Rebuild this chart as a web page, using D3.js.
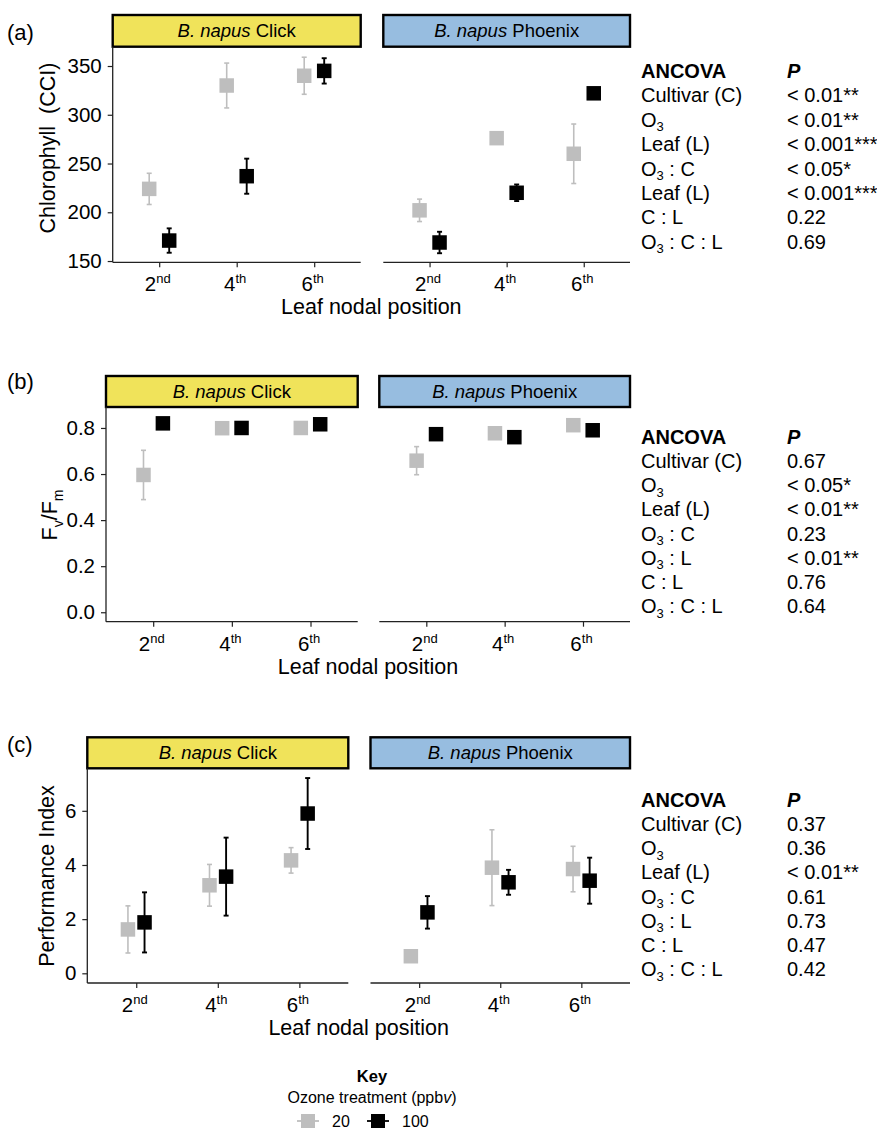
<!DOCTYPE html>
<html>
<head>
<meta charset="utf-8">
<script src="https://cdn.jsdelivr.net/npm/d3@7"></script>
<style>
  body { margin: 0; background: #fff; }
  svg text { font-family: "Liberation Sans", Arial, Helvetica, sans-serif; fill: #000; }
</style>
</head>
<body>
<svg id="chart"></svg>
<script>
const W = 877, H = 1129;

// ---- data ----
const leaves = ['2nd', '4th', '6th'];
const cultivars = ['Click', 'Phoenix'];
const ozone = ['20', '100'];

// (a) chlorophyll (CCI): mean and half error bar
const chlClick20 = [224, 330, 340];
const chlClick20Err = [16, 23, 19];
const chlClick100 = [171, 237, 345];
const chlClick100Err = [12.5, 18, 13];
const chlPhoenix20 = [202, 276, 260];
const chlPhoenix20Err = [11.5, 2, 30.5];
const chlPhoenix100 = [169, 220, 322];
const chlPhoenix100Err = [11, 8.5, 3];

// (b) Fv/Fm
const fvClick20 = [0.596, 0.799, 0.800];
const fvClick20Err = [0.107, 0.01, 0.01];
const fvClick100 = [0.820, 0.800, 0.816];
const fvClick100Err = [0.01, 0.01, 0.01];
const fvPhoenix20 = [0.658, 0.777, 0.812];
const fvPhoenix20Err = [0.061, 0.01, 0.01];
const fvPhoenix100 = [0.773, 0.760, 0.790];
const fvPhoenix100Err = [0.01, 0.01, 0.01];

// (c) performance index
const piClick20 = [1.62, 3.25, 4.17];
const piClick20Err = [0.87, 0.77, 0.47];
const piClick100 = [1.88, 3.57, 5.90];
const piClick100Err = [1.11, 1.44, 1.31];
const piPhoenix20 = [0.63, 3.90, 3.85];
const piPhoenix20Err = [0.05, 1.40, 0.84];
const piPhoenix100 = [2.25, 3.36, 3.42];
const piPhoenix100Err = [0.60, 0.46, 0.85];

const chlTicks = [150, 200, 250, 300, 350];
const fvTicks = [0, 0.2, 0.4, 0.6, 0.8];
const piTicks = [0, 2, 4, 6];

// ANCOVA tables
const ancovaTerms_a = ['Cultivar (C)', 'O3', 'Leaf (L)', 'O3 : C', 'Leaf (L)', 'C : L', 'O3 : C : L'];
const ancovaP_a = ['< 0.01**', '< 0.01**', '< 0.001***', '< 0.05*', '< 0.001***', '0.22', '0.69'];
const ancovaTerms_b = ['Cultivar (C)', 'O3', 'Leaf (L)', 'O3 : C', 'O3 : L', 'C : L', 'O3 : C : L'];
const ancovaP_b = ['0.67', '< 0.05*', '< 0.01**', '0.23', '< 0.01**', '0.76', '0.64'];
const ancovaTerms_c = ['Cultivar (C)', 'O3', 'Leaf (L)', 'O3 : C', 'O3 : L', 'C : L', 'O3 : C : L'];
const ancovaP_c = ['0.37', '0.36', '< 0.01**', '0.61', '0.73', '0.47', '0.42'];

// ---- styles ----
const colGrey = '#bebebe', colBlack = '#000000';
const ozoneColor = d3.scaleOrdinal().domain(ozone).range([colGrey, colBlack]);
const stripFill = { Click: '#f0e35a', Phoenix: '#97bde0' };
const axisCol = '#222';
const sq = 14.5;
const tickFont = 20.5, titleFont = 21.5, tableFont = 20;

const svg = d3.select('#chart').attr('width', W).attr('height', H)
  .attr('viewBox', [0, 0, W, H]);

function makeSeries(c20, e20, c100, e100) {
  return [
    { oz: '20', mean: c20, err: e20 },
    { oz: '100', mean: c100, err: e100 }
  ];
}

const rows = [
  {
    tag: '(a)', tagY: 40, stripTop: 15, plotTop: 46.7, plotBottom: 262.3,
    domain: [148.7, 369.8], ticks: chlTicks, fmt: d3.format('d'),
    facets: [[112.7, 360.7], [383.3, 630]], dodge: 10,
    titleX: 47, titleY: 148, title: 'chl',
    xlabY: 314, tableTop: 71, rowStep: 24.4,
    terms: ancovaTerms_a, pvals: ancovaP_a,
    series: {
      Click: makeSeries(chlClick20, chlClick20Err, chlClick100, chlClick100Err),
      Phoenix: makeSeries(chlPhoenix20, chlPhoenix20Err, chlPhoenix100, chlPhoenix100Err)
    }
  },
  {
    tag: '(b)', tagY: 389, stripTop: 376, plotTop: 407, plotBottom: 621.7,
    domain: [-0.041, 0.891], ticks: fvTicks, fmt: d3.format('.1f'),
    facets: [[106, 357.7], [379.3, 630]], dodge: 9.7,
    titleX: 49, titleY: 515, title: 'fv',
    xlabY: 674, tableTop: 437, rowStep: 24.15,
    terms: ancovaTerms_b, pvals: ancovaP_b,
    series: {
      Click: makeSeries(fvClick20, fvClick20Err, fvClick100, fvClick100Err),
      Phoenix: makeSeries(fvPhoenix20, fvPhoenix20Err, fvPhoenix100, fvPhoenix100Err)
    }
  },
  {
    tag: '(c)', tagY: 752, stripTop: 737.3, plotTop: 768.3, plotBottom: 983,
    domain: [-0.358, 7.57], ticks: piTicks, fmt: d3.format('d'),
    facets: [[87.3, 348.3], [370.5, 630]], dodge: 8.3,
    titleX: 46, titleY: 876, title: 'pi',
    xlabY: 1035, tableTop: 800, rowStep: 24.15,
    terms: ancovaTerms_c, pvals: ancovaP_c,
    series: {
      Click: makeSeries(piClick20, piClick20Err, piClick100, piClick100Err),
      Phoenix: makeSeries(piPhoenix20, piPhoenix20Err, piPhoenix100, piPhoenix100Err)
    }
  }
];

// write "O3" style labels with subscript 3
function subText(sel, str, size) {
  const parts = str.split('O3');
  parts.forEach((p, i) => {
    if (i > 0) {
      sel.append('tspan').text('O');
      sel.append('tspan').attr('dy', 4.5).attr('font-size', size * 0.65).text('3');
      sel.append('tspan').attr('dy', -4.5).text(p);
    } else if (p.length) {
      sel.append('tspan').text(p);
    }
  });
}

rows.forEach(row => {
  const g = svg.append('g');
  const y = d3.scaleLinear().domain(row.domain).range([row.plotBottom, row.plotTop]);

  // panel tag
  g.append('text').attr('x', 7).attr('y', row.tagY).attr('font-size', 22).text(row.tag);

  cultivars.forEach((cv, ci) => {
    const [x0, x1] = row.facets[ci];
    const x = d3.scalePoint().domain(leaves).range([x0, x1]).padding(0.6);
    const fg = g.append('g');

    // strip
    fg.append('rect')
      .attr('x', x0).attr('y', row.stripTop)
      .attr('width', x1 - x0).attr('height', row.plotTop - row.stripTop)
      .attr('fill', stripFill[cv]).attr('stroke', '#000').attr('stroke-width', 2.4);
    const st = fg.append('text')
      .attr('x', (x0 + x1) / 2).attr('y', (row.stripTop + row.plotTop) / 2 + 6.5)
      .attr('text-anchor', 'middle').attr('font-size', 18.5);
    st.append('tspan').attr('font-style', 'italic').text('B. napus');
    st.append('tspan').text(' ' + cv);

    // x axis
    const xa = fg.append('g').attr('transform', `translate(0,${row.plotBottom})`)
      .call(d3.axisBottom(x).tickSize(5).tickSizeOuter(0).tickFormat(''));
    xa.select('.domain').attr('stroke', axisCol).attr('stroke-width', 1.3)
      .attr('d', `M${x0},0H${x1}`);
    xa.selectAll('.tick line').attr('stroke', axisCol).attr('stroke-width', 1.2);
    xa.selectAll('.tick text').remove();
    xa.selectAll('.tick').append('text')
      .attr('x', -2).attr('y', 29).attr('text-anchor', 'middle').attr('font-size', tickFont)
      .each(function (d) {
        const t = d3.select(this);
        t.append('tspan').text(d.slice(0, 1));
        t.append('tspan').attr('font-size', 13).attr('dy', -8).text(d.slice(1));
      });

    // y axis only on the left facet
    if (ci === 0) {
      const ya = fg.append('g').attr('transform', `translate(${x0},0)`)
        .call(d3.axisLeft(y).tickValues(row.ticks).tickFormat(row.fmt).tickSize(5).tickPadding(6).tickSizeOuter(0));
      ya.select('.domain').attr('stroke', axisCol).attr('stroke-width', 1.3)
        .attr('d', `M0,${row.plotTop}V${row.plotBottom}`);
      ya.selectAll('.tick line').attr('stroke', axisCol).attr('stroke-width', 1.2);
      ya.selectAll('.tick text').attr('font-size', tickFont).attr('fill', '#000')
        .attr('font-family', '"Liberation Sans", Arial, sans-serif');
    }

    // points with error bars
    const pts = [];
    row.series[cv].forEach((s, si) => {
      leaves.forEach((lf, li) => {
        pts.push({ oz: s.oz, leaf: lf, mean: s.mean[li], err: s.err[li], off: si === 0 ? -row.dodge : row.dodge });
      });
    });
    const pg = fg.append('g');
    const bars = pg.selectAll('g.eb').data(pts).join('g').attr('class', 'eb')
      .attr('stroke', d => ozoneColor(d.oz))
      .attr('stroke-width', d => d.oz === '20' ? 1.6 : 1.9);
    bars.append('line')
      .attr('x1', d => x(d.leaf) + d.off).attr('x2', d => x(d.leaf) + d.off)
      .attr('y1', d => y(d.mean - d.err)).attr('y2', d => y(d.mean + d.err));
    bars.append('line')
      .attr('x1', d => x(d.leaf) + d.off - 2.5).attr('x2', d => x(d.leaf) + d.off + 2.5)
      .attr('y1', d => y(d.mean + d.err)).attr('y2', d => y(d.mean + d.err));
    bars.append('line')
      .attr('x1', d => x(d.leaf) + d.off - 2.5).attr('x2', d => x(d.leaf) + d.off + 2.5)
      .attr('y1', d => y(d.mean - d.err)).attr('y2', d => y(d.mean - d.err));
    pg.selectAll('rect').data(pts).join('rect')
      .attr('x', d => x(d.leaf) + d.off - sq / 2)
      .attr('y', d => y(d.mean) - sq / 2)
      .attr('width', sq).attr('height', sq)
      .attr('fill', d => ozoneColor(d.oz));
  });

  // y title
  const tt = g.append('text')
    .attr('transform', `translate(${row.titleX},${row.titleY}) rotate(-90)`)
    .attr('text-anchor', 'middle').attr('dy', '0.35em').attr('font-size', titleFont);
  if (row.title === 'chl') {
    tt.text('Chlorophyll\u00a0\u00a0(CCI)');
  } else if (row.title === 'fv') {
    tt.append('tspan').text('F');
    tt.append('tspan').attr('font-size', 14).attr('dy', 6).text('v');
    tt.append('tspan').attr('dy', -6).text('/F');
    tt.append('tspan').attr('font-size', 14).attr('dy', 6).text('m');
  } else {
    tt.text('Performance Index');
  }

  // x title
  g.append('text')
    .attr('x', (row.facets[0][0] + row.facets[1][1]) / 2).attr('y', row.xlabY)
    .attr('text-anchor', 'middle').attr('font-size', titleFont).text('Leaf nodal position');

  // ANCOVA table
  const tb = g.append('g').attr('font-size', tableFont);
  tb.append('text').attr('x', 641).attr('y', row.tableTop + 7)
    .attr('font-weight', 'bold').text('ANCOVA');
  tb.append('text').attr('x', 787).attr('y', row.tableTop + 7)
    .attr('font-weight', 'bold').attr('font-style', 'italic').text('P');
  row.terms.forEach((t, i) => {
    const yy = row.tableTop + 7 + (i + 1) * row.rowStep;
    subText(tb.append('text').attr('x', 641).attr('y', yy), t, tableFont);
    tb.append('text').attr('x', 787).attr('y', yy).text(row.pvals[i]);
  });
});

// ---- legend ----
const lg = svg.append('g');
lg.append('text').attr('x', 372).attr('y', 1082).attr('text-anchor', 'middle')
  .attr('font-weight', 'bold').attr('font-size', 16.5).text('Key');
const ot = lg.append('text').attr('x', 372).attr('y', 1103).attr('text-anchor', 'middle')
  .attr('font-size', 16);
ot.append('tspan').text('Ozone treatment (ppb');
ot.append('tspan').attr('font-style', 'italic').text('v');
ot.append('tspan').text(')');

const legX = d3.scaleOrdinal().domain(ozone).range([308, 378]);
const items = lg.selectAll('g.item').data(ozone).join('g').attr('class', 'item')
  .attr('transform', d => `translate(${legX(d)},1121)`);
items.append('line').attr('x1', -11).attr('x2', 11)
  .attr('stroke', d => ozoneColor(d)).attr('stroke-width', 1.8);
items.append('rect').attr('x', -7).attr('y', -7).attr('width', 14).attr('height', 14)
  .attr('fill', d => ozoneColor(d));
items.append('text').attr('x', 24).attr('y', 5.5).attr('font-size', 16).text(d => d);
</script>
</body>
</html>
